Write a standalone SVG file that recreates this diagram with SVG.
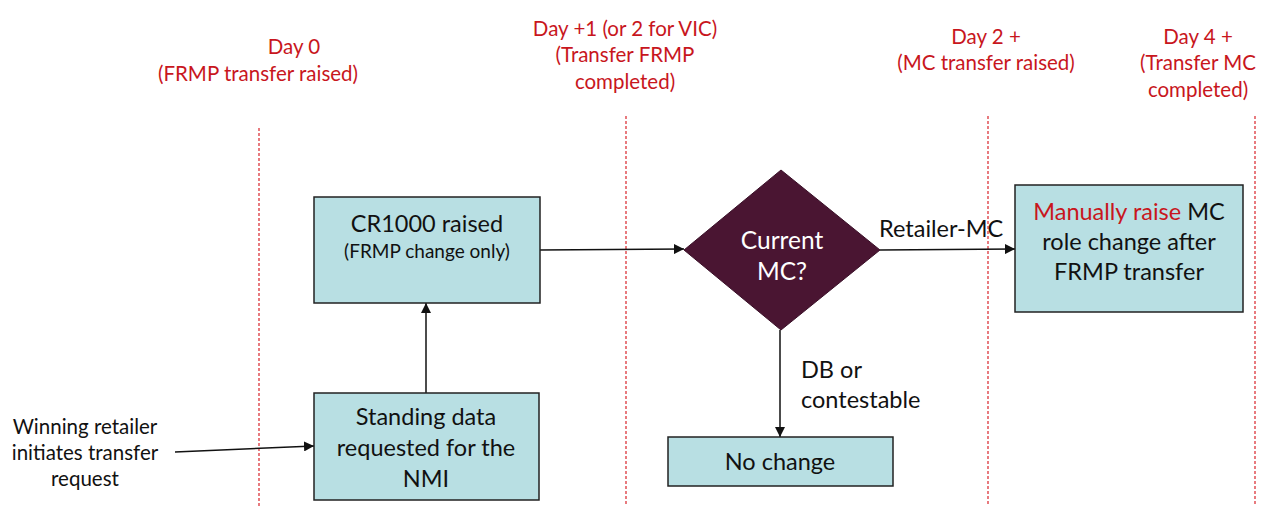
<svg xmlns="http://www.w3.org/2000/svg" width="1263" height="512" viewBox="0 0 1263 512">
<style>
text{font-family:Lato,"Open Sans","Liberation Sans",sans-serif;}
.hdr{fill:#c8161d;font-size:20.5px;text-anchor:middle;}
.box{fill:#b8dfe3;stroke:#222;stroke-width:1.5;}
.t{fill:#111;font-size:23.5px;text-anchor:middle;}
.s{fill:#111;font-size:19px;text-anchor:middle;}
.w{fill:#111;font-size:20.5px;text-anchor:middle;}
.lbl{fill:#111;font-size:23.5px;}
.dash{stroke:#d9232a;stroke-width:1.2;stroke-dasharray:3,2;fill:none;}
.conn{stroke:#111;stroke-width:1.5;fill:none;marker-end:url(#ah);}
</style>
<defs>
<marker id="ah" viewBox="0 0 10 10" refX="10" refY="5" markerWidth="10" markerHeight="10" markerUnits="userSpaceOnUse" orient="auto">
<path d="M0,0 L10,5 L0,10 z" fill="#111"/>
</marker>
</defs>
<rect width="1263" height="512" fill="#fff"/>
<g id="timeline">
<line class="dash" x1="259" y1="128" x2="259" y2="506"/>
<line class="dash" x1="626" y1="116" x2="626" y2="506"/>
<line class="dash" x1="988" y1="116" x2="988" y2="506"/>
<line class="dash" x1="1255" y1="116" x2="1255" y2="506"/>
<text class="hdr" x="294" y="54">Day 0</text>
<text class="hdr" x="258" y="81">(FRMP transfer raised)</text>
<text class="hdr" x="625" y="36">Day +1 (or 2 for VIC)</text>
<text class="hdr" x="625" y="62">(Transfer FRMP</text>
<text class="hdr" x="625" y="89">completed)</text>
<text class="hdr" x="986" y="44">Day 2 +</text>
<text class="hdr" x="986" y="70">(MC transfer raised)</text>
<text class="hdr" x="1198" y="44">Day 4 +</text>
<text class="hdr" x="1198" y="70">(Transfer MC</text>
<text class="hdr" x="1198" y="97">completed)</text>
</g>
<g id="connectors">
<path class="conn" d="M540,250 L684,249"/>
<path class="conn" d="M880,250 L1015,249"/>
<path class="conn" d="M426,393 L426,303"/>
<path class="conn" d="M780,330 L780,437"/>
<path class="conn" d="M175,452 L314,446"/>
<text class="lbl" x="879" y="237">Retailer-MC</text>
<text class="lbl" x="801" y="378">DB or</text>
<text class="lbl" x="801" y="408">contestable</text>
</g>
<g id="start">
<text class="w" x="85" y="434">Winning retailer</text>
<text class="w" x="85" y="460">initiates transfer</text>
<text class="w" x="85" y="486">request</text>
</g>
<g id="cr1000">
<rect class="box" x="314" y="197" width="226" height="106"/>
<text class="t" x="427" y="232">CR1000 raised</text>
<text class="s" x="427" y="258">(FRMP change only)</text>
</g>
<g id="standing">
<rect class="box" x="314" y="393" width="225" height="107"/>
<text class="t" x="426" y="425">Standing data</text>
<text class="t" x="426" y="456">requested for the</text>
<text class="t" x="426" y="487">NMI</text>
</g>
<g id="decision">
<polygon points="781,170 880,250 781,330 684,250" fill="#4a1532" stroke="#3a1028" stroke-width="1"/>
<text class="t" x="782" y="249" style="fill:#fff;font-size:24.5px">Current</text>
<text class="t" x="782" y="280" style="fill:#fff;font-size:24.5px">MC?</text>
</g>
<g id="nochange">
<rect class="box" x="668" y="437" width="225" height="49"/>
<text class="t" x="780" y="470">No change</text>
</g>
<g id="manual">
<rect class="box" x="1015" y="185" width="228" height="127"/>
<text class="t" x="1129" y="220"><tspan fill="#c8161d">Manually raise</tspan> MC</text>
<text class="t" x="1129" y="250">role change after</text>
<text class="t" x="1129" y="280">FRMP transfer</text>
</g>
</svg>
